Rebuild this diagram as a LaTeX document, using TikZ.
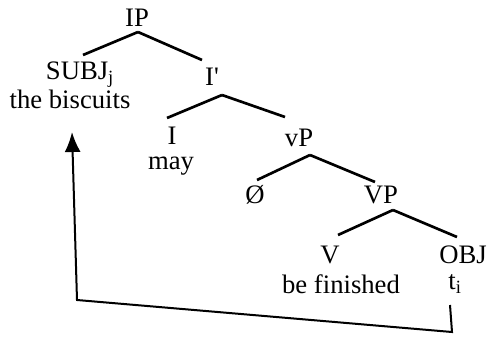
\documentclass[tikz,border=0pt]{standalone}
\usepackage{fontspec}
\setmainfont{Liberation Serif}
\usetikzlibrary{arrows.meta, positioning, calc}

\begin{document}
\begin{tikzpicture}[x=0.75pt, y=-0.75pt, thick, >={Latex[length=15pt,width=12pt]}]

		% Define styles
		\tikzstyle{cat} = [inner sep=0pt, font=\fontsize{20}{22}\selectfont]
		\tikzstyle{branch} = [line width=2pt]
		\useasboundingbox (0,0) rectangle (488,336);

		% Nodes
		\node[cat] (ip) at (137,18) {IP};
		\node[cat] (subj) at (80,75) {SUBJ\textsubscript{j}};
		\node[cat] (biscuits) at (70,99) {the biscuits};
		\node[cat] (ibar) at (212,77) {I\textquotesingle};
		\node[cat] (i) at (172,136) {I};
		\node[cat] (may) at (171,166) {may};
		\node[cat] (vp) at (299,138) {vP};
		\node[cat] (null) at (255,195) {Ø};
		\node[cat] (vpp) at (381,195) {VP};
		\node[cat] (v) at (330,255) {V};
		\node[cat] (finished) at (341,284) {be finished};
		\node[cat] (obj) at (463,255) {OBJ};
		\node[cat] (trace) at (455,284) {t\textsubscript{i}};

		% Branches
		\draw[branch] ($(ip)+(1,14)$) -- ($(subj)+(3,-20)$);
		\draw[branch] ($(ip)+(1,14)$) -- ($(ibar)+(-10,-17)$);
		\draw[branch] ($(ibar)+(10,18)$) -- ($(i)+(-5,-18)$);
		\draw[branch] ($(ibar)+(10,18)$) -- ($(vp)+(-14,-21)$);
		\draw[branch] ($(vp)+(11,17)$) -- ($(null)+(2,-15)$);
		\draw[branch] ($(vp)+(11,17)$) -- ($(vpp)+(-6,-13)$);
		\draw[branch] ($(vpp)+(12,15)$) -- ($(v)+(8,-20)$);
		\draw[branch] ($(vpp)+(12,15)$) -- ($(obj)+(-6,-18)$);

		% Movement arrow
		\coordinate (c1) at (452,332);
		\coordinate (c2) at (77,300);
		\coordinate (tip) at (72,132);
		\draw[->, line width=1.5pt] ($(trace)+(-5,21)$) -- (c1) -- (c2) -- (tip);

	\end{tikzpicture}
\end{document}
